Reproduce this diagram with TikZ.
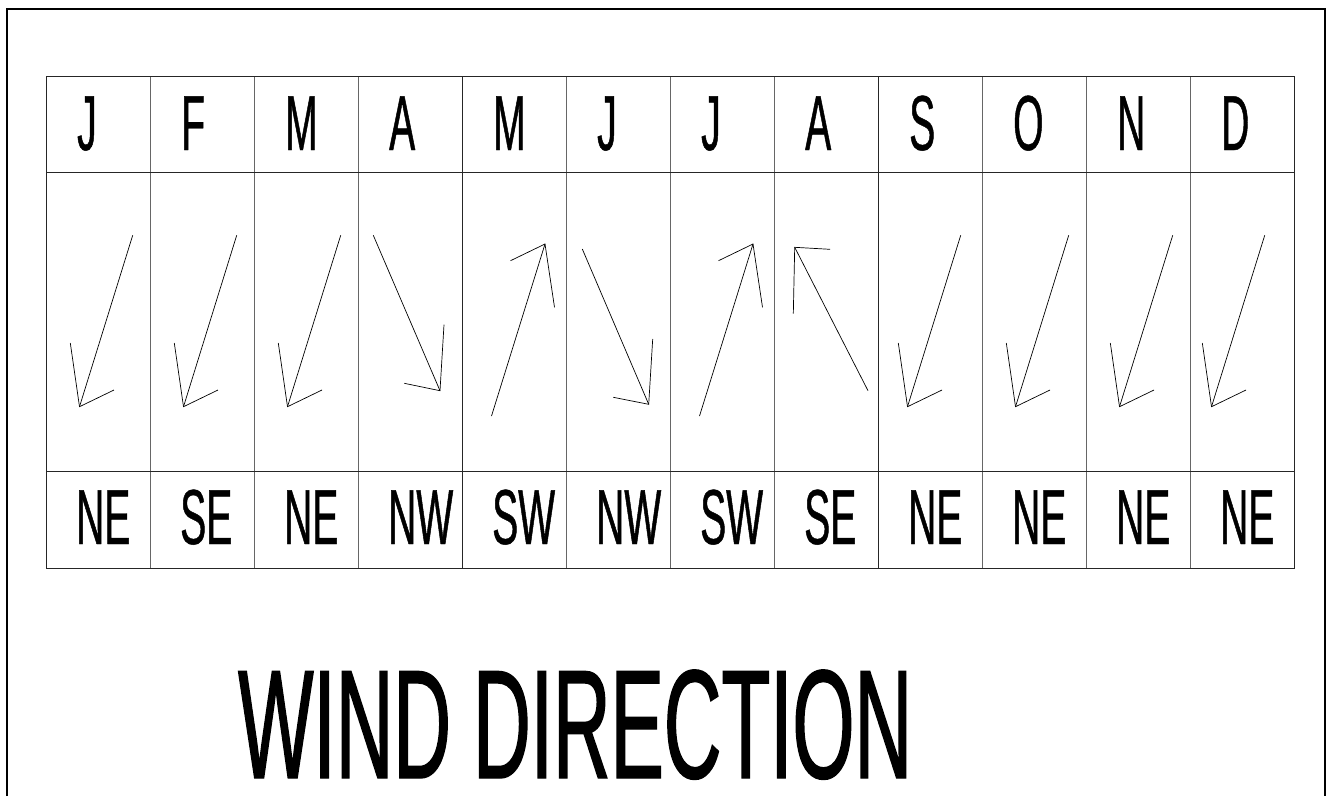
\documentclass[tikz,border=0pt]{standalone}
\usepackage{fontspec}
\newfontfamily\narrowfont[FakeStretch=0.5,FakeBold=0.6]{Liberation Sans}
\newfontfamily\titlefont[FakeStretch=0.515,FakeBold=0.9]{Liberation Sans}
\begin{document}
\begin{tikzpicture}[x=1pt,y=-1pt,
  lbl/.style={anchor=base west, inner sep=0pt, font=\narrowfont\fontsize{78}{78}\selectfont},
  ttl/.style={anchor=base west, inner sep=0pt, font=\titlefont\fontsize{155}{155}\selectfont},
  grid/.style={draw=black!60, line width=0.8pt},
  gridd/.style={draw=black!85, line width=1pt},
  arr/.style={draw=black, line width=0.7pt, line join=miter}]
\useasboundingbox (0,0) rectangle (1329,796);
% outer frame
\draw[line width=2.2pt] (7,796) -- (7,9) -- (1325,9) -- (1325,796);
% table
\foreach \i in {1,2,3,5,6,7,9,10,11} \draw[grid] ({46+104*\i},76) -- ({46+104*\i},568);
\foreach \i in {4,8} \draw[gridd] ({46+104*\i},76) -- ({46+104*\i},568);
\draw[gridd] (46,172) -- (1294,172);
\draw[gridd] (46,471) -- (1294,471);
\draw[gridd] (46,76) rectangle (1294,568);
% headers
\foreach \m [count=\i from 0] in {J,F,M,A,M,J,J,A,S,O,N,D}
  \node[lbl] (h\i) at ({46+104*\i+31},150) {\m};
% direction labels
\foreach \d [count=\i from 0] in {NE,SE,NE,NW,SW,NW,SW,SE,NE,NE,NE,NE}
  \node[lbl] (d\i) at ({46+104*\i+30},544) {\d};
% arrows: pointing SW
\foreach \x in {46,150,254,874,982,1086,1178}{
  \draw[arr, shift={(\x,0)}] (86.7,235.3) -- (33.5,406.7);
  \draw[arr, shift={(\x,0)}] (24.3,343) -- (33.5,406.7) -- (68,390);
}
% pointing SE
\draw[arr] (373.3,235.3) -- (440,390.7);
\draw[arr] (444,324.7) -- (440,390.7) -- (404.3,383.3);
\draw[arr] (582.3,249) -- (648.7,404.3);
\draw[arr] (652.7,339) -- (648.7,404.3) -- (613.3,397.3);
% pointing NE
\foreach \x in {462,670}{
  \draw[arr, shift={(\x,0)}] (29.5,416) -- (83,244);
  \draw[arr, shift={(\x,0)}] (48.5,260.7) -- (83,244) -- (92.5,307.3);
}
% pointing NW
\draw[arr] (868,390.7) -- (794.7,247.3);
\draw[arr] (830,249.3) -- (794.7,247.3) -- (793.3,313.7);
% title
\node[ttl] (title) at (238,778) {WIND DIRECTION};
\end{tikzpicture}
\end{document}
